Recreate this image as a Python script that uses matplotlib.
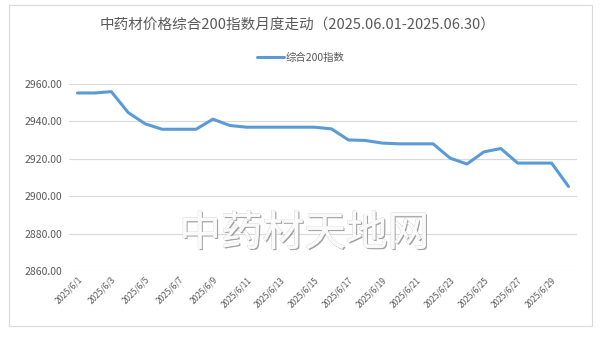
import matplotlib
matplotlib.use("Agg")
import matplotlib.pyplot as plt
import matplotlib.patheffects as pe
from matplotlib.patches import Rectangle

plt.rcParams['font.family'] = ['Noto Sans CJK SC', 'DejaVu Sans']

# ── 数据 ─────────────────────────────────────────────
dates = [f"2025/6/{d}" for d in range(1, 31)]
index_vals = [
    2955.2, 2955.2, 2955.9, 2944.7, 2938.7, 2935.8, 2935.8, 2935.8, 2941.2, 2937.8,
    2936.9, 2936.9, 2936.9, 2936.9, 2936.9, 2936.0, 2930.1, 2929.8, 2928.4, 2928.0,
    2928.0, 2928.0, 2920.4, 2917.2, 2923.7, 2925.5, 2917.7, 2917.7, 2917.7, 2905.2,
]
y_ticks = [2860, 2880, 2900, 2920, 2940, 2960]
title = "中药材价格综合200指数月度走动（2025.06.01-2025.06.30）"
series_name = "综合200指数"

TXT = "#595959"

fig = plt.figure(figsize=(6.01, 3.38), dpi=100)
fig.patch.set_facecolor("white")

# 图表外框
fig.patches.append(Rectangle((9/601, 1-326/338), 583/601, 321/338,
                             transform=fig.transFigure, fill=False,
                             edgecolor="#D9D9D9", lw=0.8))

ax = fig.add_axes([69/601, 1-271/338, 508/601, 187/338])
x = list(range(len(dates)))
ax.plot(x, index_vals, color="#5B9BD5", lw=2.2, label=series_name,
        solid_capstyle="round", solid_joinstyle="round", zorder=3)

ax.set_xlim(-0.5, len(dates)-0.5)
ax.set_ylim(y_ticks[0], y_ticks[-1])
ax.set_yticks(y_ticks)
ax.set_yticklabels([f"{v:.2f}" for v in y_ticks], fontsize=7.5, color=TXT)
ax.set_xticks(x[::2])
ax.set_xticklabels(dates[::2], rotation=45, ha="right", va="top",
                   rotation_mode="anchor", fontsize=6, color=TXT)
ax.tick_params(length=0, pad=5)
ax.tick_params(axis="x", pad=3)
ax.grid(axis="y", color="#D9D9D9", lw=0.8)
ax.set_axisbelow(True)
for s in ax.spines.values():
    s.set_visible(False)

fig.text(0.495, 1-25/338, title, ha="center", va="center", fontsize=10.5, color=TXT)
fig.legend(loc="center", bbox_to_anchor=(0.5, 1-58/338), frameon=False,
           fontsize=7.5, labelcolor=TXT, handlelength=2.6, handletextpad=0.1)

# 水印（浮雕效果）
fig.text(304/601, 1-234/338, "中药材天地网", ha="center", va="center",
         fontsize=30, fontweight="light", color="#FAFAFA", zorder=5,
         path_effects=[pe.withSimplePatchShadow(offset=(1.0, -1.0),
                                                shadow_rgbFace="#8C8C8C", alpha=0.8),
                       pe.withStroke(linewidth=0.5, foreground="#C4C4C4"),
                       pe.Normal()])

plt.savefig("out.png", dpi=100)
